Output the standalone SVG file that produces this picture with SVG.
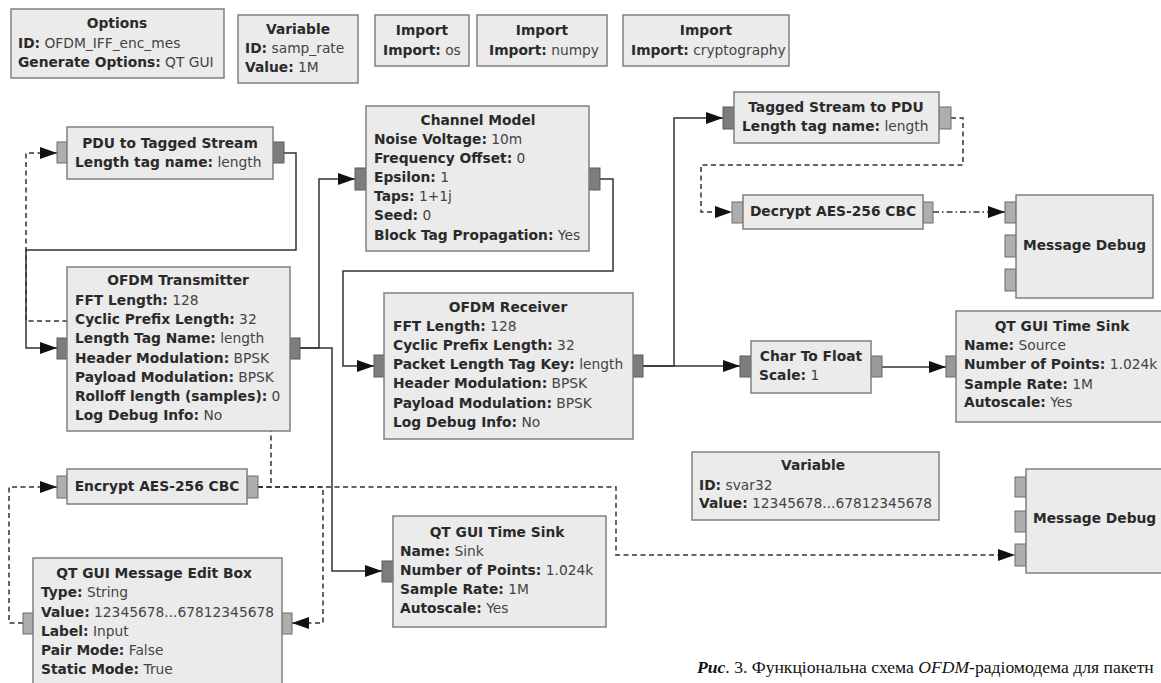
<svg xmlns="http://www.w3.org/2000/svg" width="1161" height="683" viewBox="0 0 1161 683">
<style>
.blk{fill:#ebebeb;stroke:#808080;stroke-width:1.5}
.pd{fill:#7d7d7d;stroke:#5c5c5c;stroke-width:1}
.pm{fill:#999;stroke:#666;stroke-width:1}
.pl{fill:#aeaeae;stroke:#6c6c6c;stroke-width:1}
text{font-family:"DejaVu Sans",sans-serif;font-size:13.8px;fill:#2e2e2e}
.b{font-weight:bold;fill:#2a2a2a}
.v{fill:#444}
.t{font-weight:bold;text-anchor:middle;fill:#2a2a2a}
.c{fill:none;stroke:#333;stroke-width:1.5;marker-end:url(#ah)}
.d{stroke-dasharray:5,3.5}
.cap{font-family:"Liberation Serif",serif;font-size:17.6px;fill:#111}
</style>
<defs>
<marker id="ah" markerUnits="userSpaceOnUse" markerWidth="18" markerHeight="13" refX="17" refY="6" orient="auto">
<path d="M0,0 L17,6 L0,12 z" fill="#111"/>
</marker>
</defs>
<rect width="1161" height="683" fill="#fff"/>

<g id="connectors">
<path class="c" d="M284,153 H296 V250 H26 V348 H57"/>
<path class="c" d="M300,348 H319 V179 H355"/>
<path class="c" d="M300,348 H332 V571 H382"/>
<path class="c" d="M600,179 H613 V271 H343 V366 H374"/>
<path class="c" d="M643,366 H674 V118 H723"/>
<path class="c" d="M643,366 H740"/>
<path class="c" d="M882,367 H946"/>
<path class="c d" d="M951,118 H963 V165 H701 V212 H732"/>
<path class="c d" d="M933,212 H1005" style="stroke-dasharray:6,3,1.5,3"/>
<path class="c d" d="M258,487 H271 V321 H26 V153 H57"/>
<path class="c d" d="M258,487 H323 V623 H292"/>
<path class="c d" d="M258,487 H616 V555 H1015"/>
<path class="c d" d="M23,623 H9 V487 H57"/>
</g>

<g id="options">
<rect class="blk" x="11" y="9" width="213" height="69"/>
<text class="t" x="117" y="28">Options</text>
<text x="18" y="48"><tspan class="b">ID:</tspan><tspan class="v"> OFDM_IFF_enc_mes</tspan></text>
<text x="18" y="67"><tspan class="b">Generate Options:</tspan><tspan class="v"> QT GUI</tspan></text>
</g>

<g id="var_samp_rate">
<rect class="blk" x="238" y="15" width="120" height="68"/>
<text class="t" x="298" y="34">Variable</text>
<text x="245" y="53"><tspan class="b">ID:</tspan><tspan class="v"> samp_rate</tspan></text>
<text x="245" y="72"><tspan class="b">Value:</tspan><tspan class="v"> 1M</tspan></text>
</g>

<g id="import_os">
<rect class="blk" x="375" y="15" width="94" height="51"/>
<text class="t" x="422" y="35">Import</text>
<text x="383" y="55"><tspan class="b">Import:</tspan><tspan class="v"> os</tspan></text>
</g>

<g id="import_numpy">
<rect class="blk" x="477" y="15" width="130" height="51"/>
<text class="t" x="542" y="35">Import</text>
<text x="489" y="55"><tspan class="b">Import:</tspan><tspan class="v"> numpy</tspan></text>
</g>

<g id="import_crypto">
<rect class="blk" x="623" y="15" width="166" height="51"/>
<text class="t" x="706" y="35">Import</text>
<text x="631" y="55"><tspan class="b">Import:</tspan><tspan class="v"> cryptography</tspan></text>
</g>

<g id="pdu_to_tagged">
<rect class="pl" x="57" y="142" width="10" height="21"/>
<rect class="pd" x="273" y="142" width="11" height="21"/>
<rect class="blk" x="67" y="127" width="206" height="52"/>
<text class="t" x="170" y="148">PDU to Tagged Stream</text>
<text x="75" y="167"><tspan class="b">Length tag name:</tspan><tspan class="v"> length</tspan></text>
</g>

<g id="channel_model">
<rect class="pd" x="355" y="168" width="11" height="22"/>
<rect class="pd" x="589" y="168" width="11" height="22"/>
<rect class="blk" x="366" y="106" width="223" height="145"/>
<text class="t" x="478" y="125">Channel Model</text>
<text x="374" y="144"><tspan class="b">Noise Voltage:</tspan><tspan class="v"> 10m</tspan></text>
<text x="374" y="163"><tspan class="b">Frequency Offset:</tspan><tspan class="v"> 0</tspan></text>
<text x="374" y="182"><tspan class="b">Epsilon:</tspan><tspan class="v"> 1</tspan></text>
<text x="374" y="201"><tspan class="b">Taps:</tspan><tspan class="v"> 1+1j</tspan></text>
<text x="374" y="220"><tspan class="b">Seed:</tspan><tspan class="v"> 0</tspan></text>
<text x="374" y="240"><tspan class="b">Block Tag Propagation:</tspan><tspan class="v"> Yes</tspan></text>
</g>

<g id="tagged_to_pdu">
<rect class="pd" x="723" y="107" width="11" height="22"/>
<rect class="pl" x="939" y="107" width="12" height="22"/>
<rect class="blk" x="734" y="92" width="205" height="51"/>
<text class="t" x="836" y="112">Tagged Stream to PDU</text>
<text x="742" y="131"><tspan class="b">Length tag name:</tspan><tspan class="v"> length</tspan></text>
</g>

<g id="decrypt">
<rect class="pl" x="732" y="202" width="11" height="21"/>
<rect class="pl" x="923" y="202" width="10" height="21"/>
<rect class="blk" x="743" y="195" width="180" height="34"/>
<text class="t" x="833" y="216">Decrypt AES-256 CBC</text>
</g>

<g id="msg_debug_top">
<rect class="pl" x="1005" y="202" width="11" height="21"/>
<rect class="pl" x="1005" y="235" width="11" height="22"/>
<rect class="pl" x="1005" y="269" width="11" height="22"/>
<rect class="blk" x="1016" y="195" width="137" height="103"/>
<text class="b" x="1023" y="250">Message Debug</text>
</g>

<g id="ofdm_tx">
<rect class="pd" x="57" y="338" width="10" height="21"/>
<rect class="pd" x="290" y="338" width="10" height="21"/>
<rect class="blk" x="67" y="267" width="223" height="164"/>
<text class="t" x="178" y="285">OFDM Transmitter</text>
<text x="75" y="305"><tspan class="b">FFT Length:</tspan><tspan class="v"> 128</tspan></text>
<text x="75" y="324"><tspan class="b">Cyclic Prefix Length:</tspan><tspan class="v"> 32</tspan></text>
<text x="75" y="343"><tspan class="b">Length Tag Name:</tspan><tspan class="v"> length</tspan></text>
<text x="75" y="363"><tspan class="b">Header Modulation:</tspan><tspan class="v"> BPSK</tspan></text>
<text x="75" y="382"><tspan class="b">Payload Modulation:</tspan><tspan class="v"> BPSK</tspan></text>
<text x="75" y="401"><tspan class="b">Rolloff length (samples):</tspan><tspan class="v"> 0</tspan></text>
<text x="75" y="420"><tspan class="b">Log Debug Info:</tspan><tspan class="v"> No</tspan></text>
</g>

<g id="ofdm_rx">
<rect class="pd" x="374" y="355" width="10" height="22"/>
<rect class="pd" x="633" y="355" width="10" height="22"/>
<rect class="blk" x="384" y="293" width="249" height="146"/>
<text class="t" x="508" y="312">OFDM Receiver</text>
<text x="393" y="331"><tspan class="b">FFT Length:</tspan><tspan class="v"> 128</tspan></text>
<text x="393" y="350"><tspan class="b">Cyclic Prefix Length:</tspan><tspan class="v"> 32</tspan></text>
<text x="393" y="369"><tspan class="b">Packet Length Tag Key:</tspan><tspan class="v"> length</tspan></text>
<text x="393" y="388"><tspan class="b">Header Modulation:</tspan><tspan class="v"> BPSK</tspan></text>
<text x="393" y="408"><tspan class="b">Payload Modulation:</tspan><tspan class="v"> BPSK</tspan></text>
<text x="393" y="427"><tspan class="b">Log Debug Info:</tspan><tspan class="v"> No</tspan></text>
</g>

<g id="char_to_float">
<rect class="pd" x="740" y="356" width="11" height="21"/>
<rect class="pm" x="871" y="356" width="11" height="21"/>
<rect class="blk" x="751" y="341" width="120" height="52"/>
<text class="t" x="811" y="361">Char To Float</text>
<text x="759" y="380"><tspan class="b">Scale:</tspan><tspan class="v"> 1</tspan></text>
</g>

<g id="time_sink_source">
<rect class="pm" x="946" y="356" width="10" height="21"/>
<rect class="blk" x="956" y="311" width="212" height="111"/>
<text class="t" x="1062" y="331">QT GUI Time Sink</text>
<text x="964" y="350"><tspan class="b">Name:</tspan><tspan class="v"> Source</tspan></text>
<text x="964" y="369"><tspan class="b">Number of Points:</tspan><tspan class="v"> 1.024k</tspan></text>
<text x="964" y="389"><tspan class="b">Sample Rate:</tspan><tspan class="v"> 1M</tspan></text>
<text x="964" y="407"><tspan class="b">Autoscale:</tspan><tspan class="v"> Yes</tspan></text>
</g>

<g id="var_svar32">
<rect class="blk" x="692" y="452" width="247" height="68"/>
<text class="t" x="813" y="470">Variable</text>
<text x="699" y="490"><tspan class="b">ID:</tspan><tspan class="v"> svar32</tspan></text>
<text x="699" y="508"><tspan class="b">Value:</tspan><tspan class="v"> 12345678...67812345678</tspan></text>
</g>

<g id="msg_debug_bottom">
<rect class="pl" x="1015" y="477" width="11" height="20"/>
<rect class="pl" x="1015" y="511" width="11" height="21"/>
<rect class="pl" x="1015" y="544" width="11" height="22"/>
<rect class="blk" x="1026" y="469" width="140" height="104"/>
<text class="b" x="1033" y="523">Message Debug</text>
</g>

<g id="encrypt">
<rect class="pl" x="57" y="476" width="10" height="22"/>
<rect class="pl" x="247" y="476" width="11" height="22"/>
<rect class="blk" x="67" y="469" width="180" height="35"/>
<text class="t" x="157" y="491">Encrypt AES-256 CBC</text>
</g>

<g id="time_sink_sink">
<rect class="pd" x="382" y="561" width="11" height="21"/>
<rect class="blk" x="393" y="516" width="213" height="111"/>
<text class="t" x="497" y="537">QT GUI Time Sink</text>
<text x="400" y="556"><tspan class="b">Name:</tspan><tspan class="v"> Sink</tspan></text>
<text x="400" y="575"><tspan class="b">Number of Points:</tspan><tspan class="v"> 1.024k</tspan></text>
<text x="400" y="594"><tspan class="b">Sample Rate:</tspan><tspan class="v"> 1M</tspan></text>
<text x="400" y="613"><tspan class="b">Autoscale:</tspan><tspan class="v"> Yes</tspan></text>
</g>

<g id="msg_edit_box">
<rect class="pl" x="23" y="613" width="10" height="21"/>
<rect class="pl" x="282" y="613" width="10" height="21"/>
<rect class="blk" x="33" y="558" width="249" height="135"/>
<text class="t" x="154" y="578">QT GUI Message Edit Box</text>
<text x="41" y="597"><tspan class="b">Type:</tspan><tspan class="v"> String</tspan></text>
<text x="41" y="617"><tspan class="b">Value:</tspan><tspan class="v"> 12345678...67812345678</tspan></text>
<text x="41" y="636"><tspan class="b">Label:</tspan><tspan class="v"> Input</tspan></text>
<text x="41" y="655"><tspan class="b">Pair Mode:</tspan><tspan class="v"> False</tspan></text>
<text x="41" y="674"><tspan class="b">Static Mode:</tspan><tspan class="v"> True</tspan></text>
</g>

<text class="cap" x="697" y="673" xml:space="preserve"><tspan font-weight="bold" font-style="italic">Рис</tspan>. 3. Функціональна схема <tspan font-style="italic">OFDM</tspan>-радіомодема для пакетн</text>
</svg>
